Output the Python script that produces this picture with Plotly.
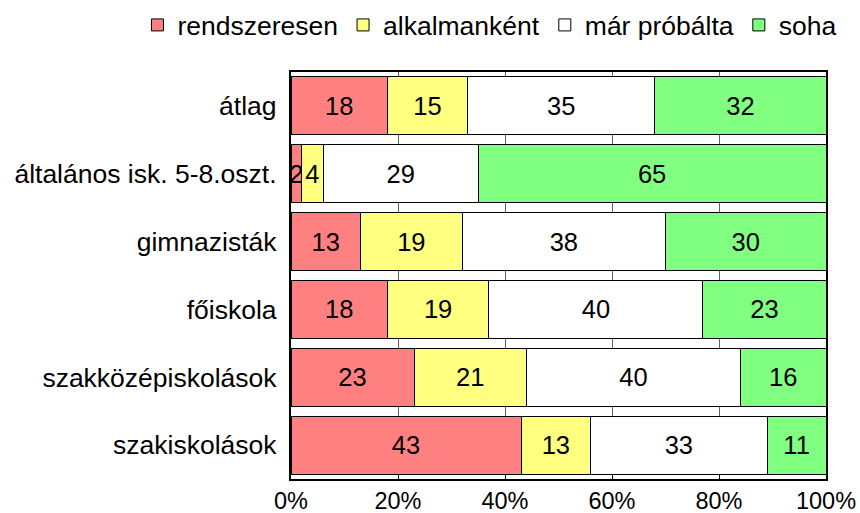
import plotly.graph_objects as go

categories = ["átlag", "általános isk. 5-8.oszt.", "gimnazisták", "főiskola",
              "szakközépiskolások", "szakiskolások"]
series_names = ["rendszeresen", "alkalmanként", "már próbálta", "soha"]
rendszeresen = [18, 2, 13, 18, 23, 43]
alkalmankent = [15, 4, 19, 19, 21, 13]
mar_probalta = [35, 29, 38, 40, 40, 33]
soha = [32, 65, 30, 23, 16, 11]
colors = ["#FF8080", "#FFFF80", "#FFFFFF", "#80FF80"]
tick_vals = [0, 20, 40, 60, 80, 100]
tick_text = ["0%", "20%", "40%", "60%", "80%", "100%"]

fig = go.Figure()
for name, vals, col in zip(series_names,
                           [rendszeresen, alkalmankent, mar_probalta, soha],
                           colors):
    fig.add_trace(go.Bar(
        y=categories, x=vals, name=name, orientation="h",
        marker=dict(color=col, line=dict(color="black", width=1)),
        text=[str(v) for v in vals], textposition="inside",
        insidetextanchor="middle", constraintext="none",
        textfont=dict(size=25.5, color="black"),
        hoverinfo="x+y+name",
    ))

fig.update_layout(
    template="none",
    barmode="stack", bargap=0.145,
    width=860, height=513,
    margin=dict(l=291, r=34, t=72, b=34, autoexpand=False),
    paper_bgcolor="white", plot_bgcolor="white",
    font=dict(family="Arial, Liberation Sans, sans-serif", size=26, color="black"),
    legend=dict(orientation="h", x=-0.287, xanchor="left", y=1.115, yanchor="middle",
                font=dict(size=26.5), traceorder="normal", itemwidth=30,
                bgcolor="rgba(0,0,0,0)", borderwidth=0),
    showlegend=True,
)
fig.update_xaxes(range=[0, 100], tickvals=tick_vals, ticktext=tick_text,
                 showgrid=True, gridcolor="#606060", gridwidth=1,
                 showline=True, linecolor="black", linewidth=1.5, mirror=True,
                 ticks="inside", ticklen=5, tickcolor="black", automargin=False,
                 zeroline=False, tickfont=dict(size=23.5))
fig.update_yaxes(autorange="reversed", showline=True, linecolor="black",
                 linewidth=1.5, mirror=True, ticks="", ticksuffix=" ",
                 automargin=False, showgrid=False,
                 tickfont=dict(size=26.5))

fig.write_html("out.html",
               config={"displayModeBar": False},
               post_script="document.body.style.margin='0';document.body.style.overflow='hidden';")
